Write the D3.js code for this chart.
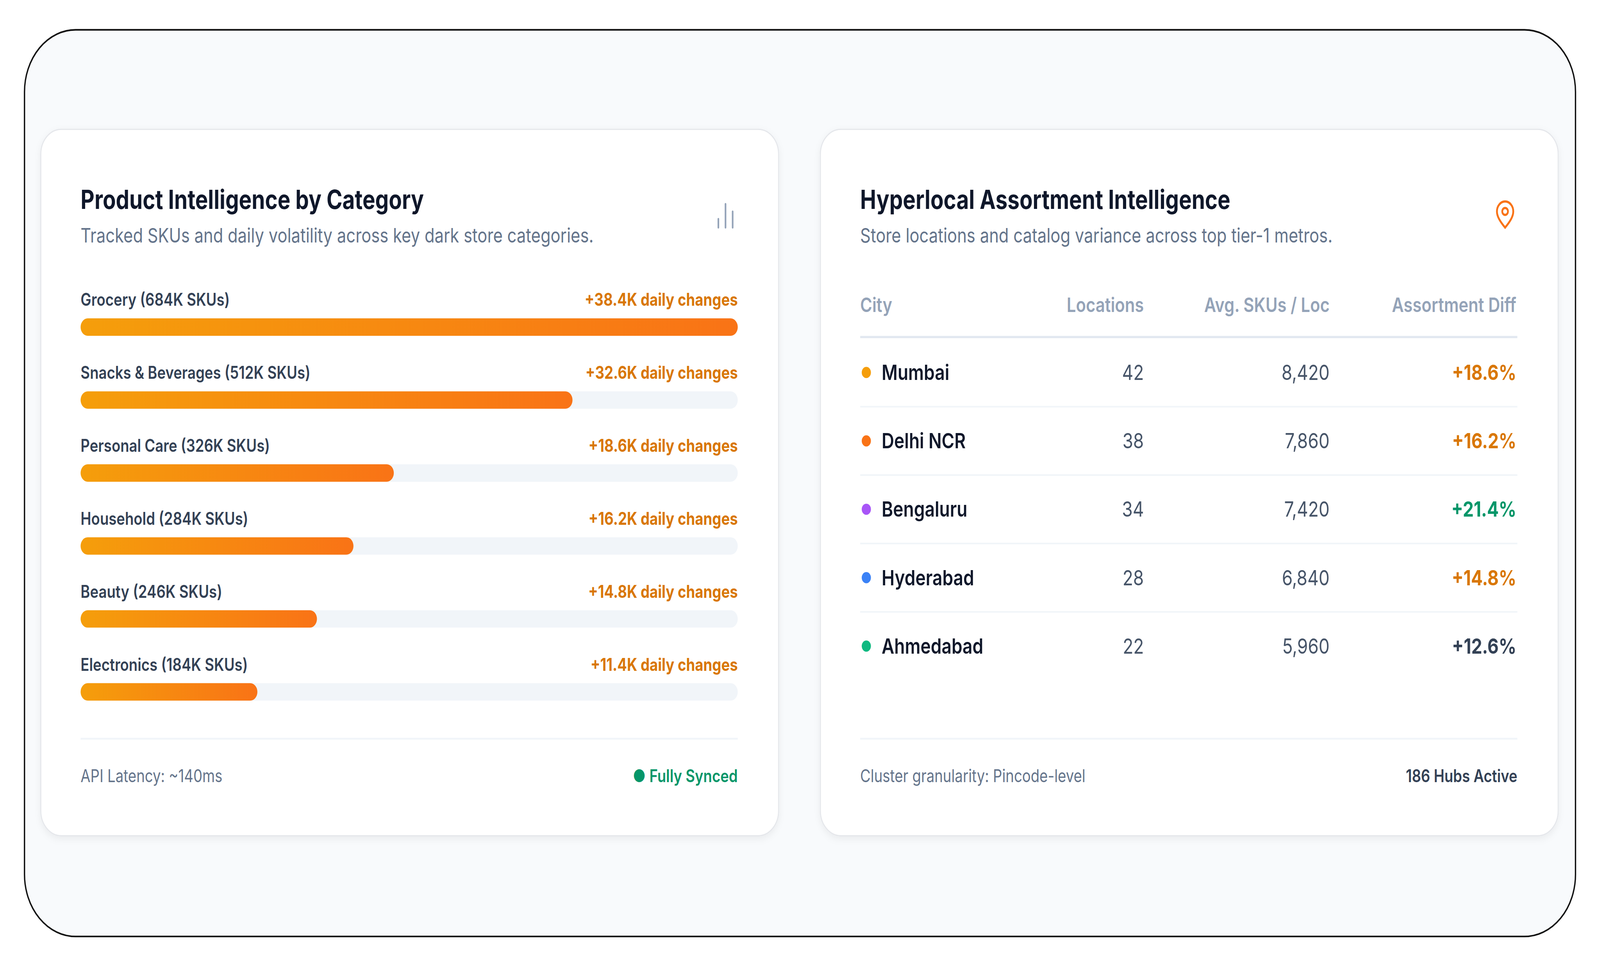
<!DOCTYPE html>
<html><head><meta charset="utf-8">
<script src="https://cdn.jsdelivr.net/npm/d3@7"></script>
<style>html,body{margin:0;padding:0;background:#fff;width:100%;height:100%;overflow:hidden;}svg{display:block;width:100vw;height:100vh;font-family:Inter,"Noto Sans",sans-serif;}</style>
</head><body>
<script>
const categories=["Grocery","Snacks & Beverages","Personal Care","Household","Beauty","Electronics"];
const skus=[684,512,326,284,246,184];
const dailyChanges=["+38.4K","+32.6K","+18.6K","+16.2K","+14.8K","+11.4K"];
const cities=["Mumbai","Delhi NCR","Bengaluru","Hyderabad","Ahmedabad"];
const locations=[42,38,34,28,22];
const avgSkus=[8420,7860,7420,6840,5960];
const assortDiff=[18.6,16.2,21.4,14.8,12.6];
const cityColors=["#f59e0b","#f97316","#a855f7","#3b82f6","#10b981"];
const diffColors=["#d97706","#d97706","#059669","#d97706","#334155"];
const tableHeaders=["City","Locations","Avg. SKUs / Loc","Assortment Diff"];

const W=4994,H=2479,VW=1568,VH=H*VW/W;
const svg=d3.select("body").append("svg").attr("viewBox",`0 0 ${VW} ${VH}`).attr("preserveAspectRatio","none");
const defs=svg.append("defs");
const g=defs.append("linearGradient").attr("id","bg");
g.append("stop").attr("offset","0%").attr("stop-color","#f59e0b");
g.append("stop").attr("offset","100%").attr("stop-color","#f97316");
const f=defs.append("filter").attr("id","sh").attr("x","-5%").attr("y","-5%").attr("width","110%").attr("height","115%");
f.append("feDropShadow").attr("dx",0).attr("dy",2).attr("stdDeviation",3).attr("flood-color","#0f172a").attr("flood-opacity",0.06);

svg.append("rect").attr("x",24).attr("y",24).attr("width",1520).attr("height",729).attr("rx",50).attr("fill","#f8fafc").attr("stroke","#111").attr("stroke-width",1.3);

function card(x){
  svg.append("rect").attr("x",x).attr("y",104).attr("width",723).attr("height",568).attr("rx",20)
   .attr("fill","#fff").attr("stroke","#e5e7eb").attr("filter","url(#sh)");
}
card(40);card(804);

function txt(x,y,t,o){
  const e=svg.append("text").attr("x",x).attr("y",y).text(t)
   .attr("font-size",o.size||14).attr("font-weight",o.w||400).attr("fill",o.c||"#334155");
  if(o.a) e.attr("text-anchor",o.a);
  return e;
}

// Left card
txt(79,168,"Product Intelligence by Category",{size:21,w:700,c:"#0f172a"});
txt(79,195,"Tracked SKUs and daily volatility across key dark store categories.",{size:16,c:"#64748b"});
const ic=svg.append("g").attr("stroke","#94a3b8").attr("stroke-width",1.6).attr("stroke-linecap","round");
[[704,176,183],[711,164,183],[718,170,183]].forEach(d=>ic.append("line").attr("x1",d[0]).attr("x2",d[0]).attr("y1",d[1]).attr("y2",d[2]));

const x=d3.scaleLinear().domain([0,684]).range([0,644]);
const y=d3.scaleBand().domain(categories).range([241,593]).paddingInner(0);
categories.forEach((c,i)=>{
  const y0=y(c);
  txt(79,y0+5,`${c} (${skus[i]}K SKUs)`,{size:14,w:600,c:"#334155"});
  txt(723,y0+5,`${dailyChanges[i]} daily changes`,{size:14,w:700,c:"#d97706",a:"end"});
  svg.append("rect").attr("x",79).attr("y",y0+15).attr("width",x(684)).attr("height",14).attr("rx",7).attr("fill","#f1f5f9");
  svg.append("rect").attr("x",79).attr("y",y0+15).attr("width",x(skus[i])).attr("height",14).attr("rx",7).attr("fill","url(#bg)");
});
svg.append("line").attr("x1",79).attr("x2",723).attr("y1",594).attr("y2",594).attr("stroke","#f1f5f9").attr("stroke-width",1.5);
txt(79,629,"API Latency: ~140ms",{size:14,c:"#64748b"});
txt(723,629,"● Fully Synced",{size:14,w:600,c:"#059669",a:"end"});

// Right card
txt(843,168,"Hyperlocal Assortment Intelligence",{size:21,w:700,c:"#0f172a"});
txt(843,195,"Store locations and catalog variance across top tier-1 metros.",{size:16,c:"#64748b"});
const pin=svg.append("g").attr("transform","translate(1475,173)").attr("fill","none").attr("stroke","#f97316").attr("stroke-width",1.8);
pin.append("path").attr("d","M0,10 C-5,5 -8,1 -8,-3 A8,8 0 1 1 8,-3 C8,1 5,5 0,10 Z");
pin.append("circle").attr("cx",0).attr("cy",-3).attr("r",2.8);

const colX=[843,1121,1303,1486];
tableHeaders.forEach((h,i)=>txt(colX[i],251,h,{size:16,w:600,c:"#94a3b8",a:i?"end":"start"}));
svg.append("line").attr("x1",843).attr("x2",1487).attr("y1",271).attr("y2",271).attr("stroke","#e2e8f0").attr("stroke-width",1.8);
const ry=d3.scaleBand().domain(cities).range([272,547]);
const fmt=d3.format(",");
cities.forEach((c,i)=>{
  const cy=ry(c)+ry.bandwidth()/2;
  svg.append("circle").attr("cx",849).attr("cy",cy).attr("r",4.5).attr("fill",cityColors[i]);
  txt(864,cy+6,c,{size:17,w:600,c:"#0f172a"});
  txt(colX[1],cy+6,locations[i],{size:17,c:"#475569",a:"end"});
  txt(colX[2],cy+6,fmt(avgSkus[i]),{size:17,c:"#475569",a:"end"});
  txt(colX[3],cy+6,"+"+assortDiff[i].toFixed(1)+"%",{size:17,w:700,c:diffColors[i],a:"end"});
  if(i<cities.length-1) svg.append("line").attr("x1",843).attr("x2",1487).attr("y1",ry(c)+ry.bandwidth()).attr("y2",ry(c)+ry.bandwidth()).attr("stroke","#f1f5f9").attr("stroke-width",1.3);
});
svg.append("line").attr("x1",843).attr("x2",1487).attr("y1",594).attr("y2",594).attr("stroke","#f1f5f9").attr("stroke-width",1.5);
txt(843,629,"Cluster granularity: Pincode-level",{size:14,c:"#64748b"});
txt(1487,629,"186 Hubs Active",{size:14,w:600,c:"#334155",a:"end"});
</script>
</body></html>
